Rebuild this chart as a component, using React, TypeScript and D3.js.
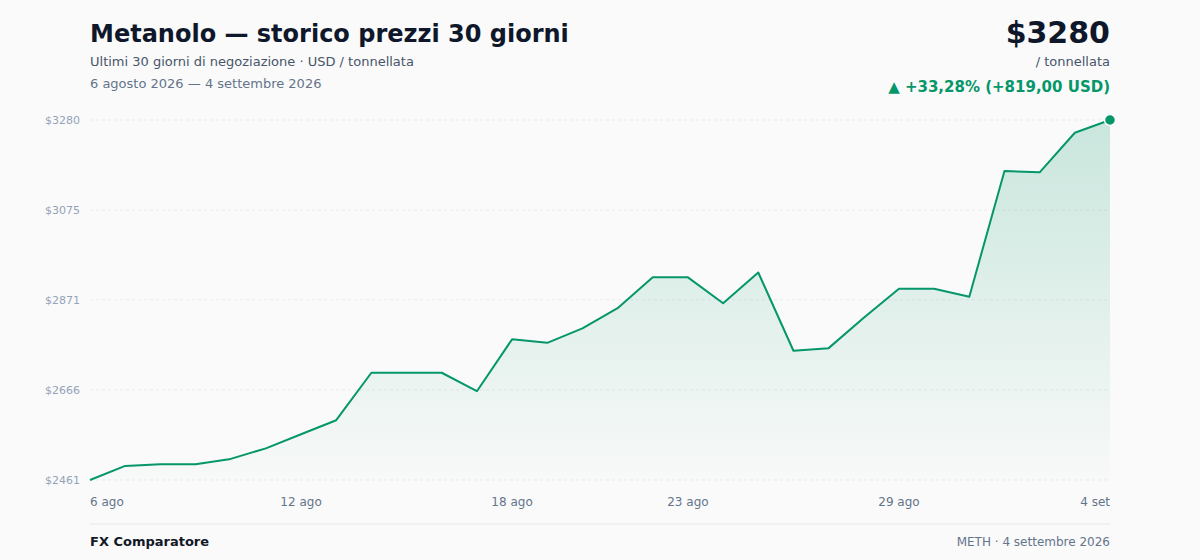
import React, { useEffect, useRef } from 'react';
import * as d3 from 'd3';

const dayLabels: string[] = [
  '6 ago', '7 ago', '8 ago', '9 ago', '10 ago', '11 ago', '12 ago', '13 ago', '14 ago', '15 ago',
  '16 ago', '17 ago', '18 ago', '19 ago', '20 ago', '21 ago', '22 ago', '23 ago', '24 ago', '25 ago',
  '26 ago', '27 ago', '28 ago', '29 ago', '30 ago', '31 ago', '1 set', '2 set', '3 set', '4 set',
];

const prices: number[] = [
  2461, 2493, 2497, 2497, 2509, 2533, 2565, 2597, 2705, 2705,
  2705, 2663, 2781, 2773, 2806, 2852, 2922, 2922, 2863, 2933,
  2755, 2761, 2830, 2896, 2896, 2878, 3164, 3161, 3251, 3280,
];

const yTicks: number[] = [2461, 2666, 2871, 3075, 3280];
const xTickLabels: string[] = ['6 ago', '12 ago', '18 ago', '23 ago', '29 ago', '4 set'];

const GREEN = '#059669';
const FONT = '"DejaVu Sans", Verdana, sans-serif';

const App: React.FC = () => {
  const chartRef = useRef<SVGSVGElement | null>(null);

  useEffect(() => {
    document.body.style.margin = '0';
    document.body.style.background = '#fafafa';
    if (!chartRef.current) return;

    const width = 1200;
    const height = 560;
    const margin = { top: 120, right: 90, bottom: 80, left: 90 };

    const svg = d3.select(chartRef.current);
    svg.selectAll('*').remove();
    svg.attr('width', width).attr('height', height).style('font-family', FONT);

    svg.append('rect').attr('width', width).attr('height', height).attr('fill', '#fafafa');

    const x = d3
      .scalePoint<string>()
      .domain(dayLabels)
      .range([margin.left, width - margin.right]);
    const y = d3
      .scaleLinear()
      .domain([2461, 3280])
      .range([height - margin.bottom, margin.top]);

    // header
    svg.append('text').attr('x', 90).attr('y', 42).attr('font-size', 24).attr('font-weight', 700)
      .attr('fill', '#0f172a').text('Metanolo — storico prezzi 30 giorni');
    svg.append('text').attr('x', 90).attr('y', 66).attr('font-size', 13).attr('fill', '#475569')
      .text('Ultimi 30 giorni di negoziazione · USD / tonnellata');
    svg.append('text').attr('x', 90).attr('y', 88).attr('font-size', 13).attr('fill', '#64748b')
      .text('6 agosto 2026 — 4 settembre 2026');

    const last = prices[prices.length - 1];
    const first = prices[0];
    const diff = last - first;
    const pct = (diff / first) * 100;
    const fmt = (v: number) => v.toFixed(2).replace('.', ',');

    svg.append('text').attr('x', 1110).attr('y', 43).attr('text-anchor', 'end').attr('font-size', 30)
      .attr('font-weight', 700).attr('fill', '#0f172a').text(`$${last}`);
    svg.append('text').attr('x', 1110).attr('y', 66).attr('text-anchor', 'end').attr('font-size', 13)
      .attr('fill', '#475569').text('/ tonnellata');
    svg.append('text').attr('x', 1110).attr('y', 92).attr('text-anchor', 'end').attr('font-size', 15)
      .attr('font-weight', 700).attr('fill', GREEN)
      .text(`▲ +${fmt(pct)}% (+${fmt(diff)} USD)`);

    // grid + y labels
    const grid = svg.append('g');
    yTicks.forEach((t) => {
      grid.append('line')
        .attr('x1', margin.left).attr('x2', width - margin.right)
        .attr('y1', y(t)).attr('y2', y(t))
        .attr('stroke', '#e8eaee').attr('stroke-dasharray', '3,3');
      grid.append('text')
        .attr('x', 80).attr('y', y(t) + 4).attr('text-anchor', 'end')
        .attr('font-size', 11).attr('fill', '#94a3b8').text(`$${t}`);
    });

    // area gradient
    const defs = svg.append('defs');
    const grad = defs.append('linearGradient').attr('id', 'areaFill')
      .attr('gradientUnits', 'userSpaceOnUse')
      .attr('x1', 0).attr('x2', 0).attr('y1', margin.top).attr('y2', height - margin.bottom);
    grad.append('stop').attr('offset', '0%').attr('stop-color', GREEN).attr('stop-opacity', 0.2);
    grad.append('stop').attr('offset', '100%').attr('stop-color', GREEN).attr('stop-opacity', 0.01);

    const area = d3.area<number>()
      .x((_, i) => x(dayLabels[i])!)
      .y0(height - margin.bottom)
      .y1((d) => y(d));
    const line = d3.line<number>()
      .x((_, i) => x(dayLabels[i])!)
      .y((d) => y(d));

    svg.append('path').datum(prices).attr('d', area).attr('fill', 'url(#areaFill)');
    svg.append('path').datum(prices).attr('d', line).attr('fill', 'none')
      .attr('stroke', GREEN).attr('stroke-width', 2).attr('stroke-linejoin', 'round');

    svg.append('circle')
      .attr('cx', x(dayLabels[dayLabels.length - 1])!)
      .attr('cy', y(last))
      .attr('r', 5.5).attr('fill', GREEN).attr('stroke', '#fafafa').attr('stroke-width', 1.5);

    // x labels
    xTickLabels.forEach((lab, i) => {
      const anchor = i === 0 ? 'start' : i === xTickLabels.length - 1 ? 'end' : 'middle';
      svg.append('text')
        .attr('x', x(lab)!).attr('y', 506).attr('text-anchor', anchor)
        .attr('font-size', 12).attr('fill', '#64748b').text(lab);
    });

    // footer
    svg.append('line').attr('x1', 90).attr('x2', 1110).attr('y1', 524).attr('y2', 524)
      .attr('stroke', '#e5e7eb');
    svg.append('text').attr('x', 90).attr('y', 546).attr('font-size', 13).attr('font-weight', 700)
      .attr('fill', '#111827').text('FX Comparatore');
    svg.append('text').attr('x', 1110).attr('y', 546).attr('text-anchor', 'end').attr('font-size', 12)
      .attr('fill', '#64748b').text('METH · 4 settembre 2026');
  }, []);

  return <svg ref={chartRef} style={{ display: 'block' }}></svg>;
};

export default App;
